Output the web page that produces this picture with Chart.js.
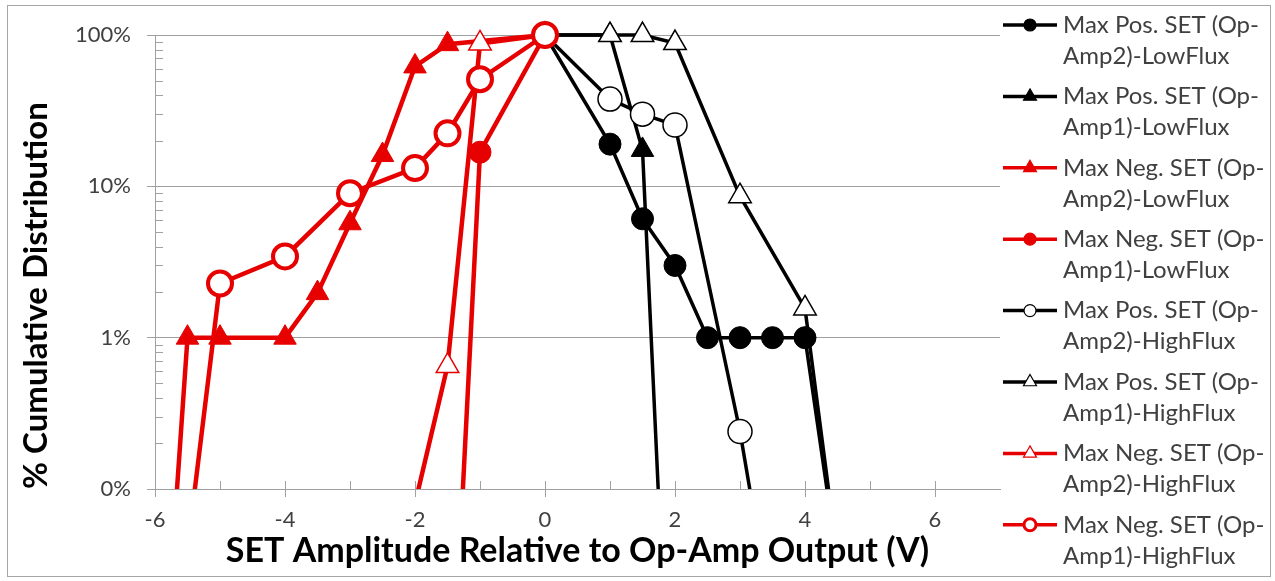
<!DOCTYPE html>
<html lang="en">
<head>
<meta charset="UTF-8">
<title>SET amplitude cumulative distribution</title>
<script src="https://cdn.jsdelivr.net/npm/chart.js@4"></script>
<style>
  body { margin: 0; background: #fff; }
  #wrap { width: 1275px; height: 581px; }
</style>
</head>
<body>
<div id="wrap"><canvas id="setChart" width="1275" height="581"></canvas></div>
<script>
// legend labels, in the same order as the series below
const seriesLabels = [
  'Max Pos. SET (Op-Amp2)-LowFlux',
  'Max Pos. SET (Op-Amp1)-LowFlux',
  'Max Neg. SET (Op-Amp2)-LowFlux',
  'Max Neg. SET (Op-Amp1)-LowFlux',
  'Max Pos. SET (Op-Amp2)-HighFlux',
  'Max Pos. SET (Op-Amp1)-HighFlux',
  'Max Neg. SET (Op-Amp2)-HighFlux',
  'Max Neg. SET (Op-Amp1)-HighFlux'
];

// SET amplitude (V) and % cumulative distribution
// (points under 0.1% fall below the axis and are clipped, as in the original)
const posAmp2LowX = [0, 1, 1.5, 2, 2.5, 3, 3.5, 4, 4.5];
const posAmp2LowY = [100, 19, 6.1, 3.0, 1, 1, 1, 1, 0.033];
const posAmp1LowX = [0, 1, 1.5, 2];
const posAmp1LowY = [100, 100, 17.4, 0.0004];
const negAmp2LowX = [-6, -5.5, -5, -4, -3.5, -3, -2.5, -2, -1.5, 0];
const negAmp2LowY = [0.0008, 1, 1, 1, 1.97, 5.7, 16.1, 62, 87, 100];
const negAmp1LowX = [-1.5, -1, 0];
const negAmp1LowY = [0.001, 16.8, 100];
const posAmp2HighX = [0, 1, 1.5, 2, 3, 3.5];
const posAmp2HighY = [100, 37.7, 30, 25.4, 0.24, 0.013];
const posAmp1HighX = [0, 1, 1.5, 2, 3, 4, 4.5];
const posAmp1HighY = [100, 100, 100, 88.5, 8.6, 1.56, 0.035];
const negAmp2HighX = [-2, -1.5, -1, 0];
const negAmp2HighY = [0.08, 0.65, 88, 100];
const negAmp1HighX = [-5.5, -5, -4, -3, -2, -1.5, -1, 0];
const negAmp1HighY = [0.04, 2.28, 3.44, 9.0, 13.2, 22.4, 51, 100];

// axis ticks
const yTickValues = [0.1, 1, 10, 100];
const yTickLabels = ['0%', '1%', '10%', '100%'];
const xTickValues = [-6, -4, -2, 0, 2, 4, 6];

const RED = '#e60000';
const AXIS_GRAY = '#a0a0a0';
const FONT = 'Lato';

function pts(xs, ys) {
  return xs.map((x, i) => ({ x: x, y: ys[i] }));
}

// marker / line look for each series
const looks = [
  { line: '#000', width: 3.5, shape: 'circle', r: 11, fill: '#000', edge: '#000', ew: 1 },
  { line: '#000', width: 3.5, shape: 'triangle', r: 13, fill: '#000', edge: '#000', ew: 1 },
  { line: RED, width: 4.5, shape: 'triangle', r: 13, fill: RED, edge: RED, ew: 1 },
  { line: RED, width: 4.5, shape: 'circle', r: 11, fill: RED, edge: RED, ew: 1 },
  { line: '#000', width: 3.5, shape: 'circle', r: 12, fill: '#fff', edge: '#000', ew: 1.5 },
  { line: '#000', width: 3.5, shape: 'triangle', r: 13, fill: '#fff', edge: '#000', ew: 1.5 },
  { line: RED, width: 4.5, shape: 'triangle', r: 13, fill: '#fff', edge: RED, ew: 1.5 },
  { line: RED, width: 4.5, shape: 'circle', r: 12, fill: '#fff', edge: RED, ew: 4 }
];

const seriesData = [
  pts(posAmp2LowX, posAmp2LowY),
  pts(posAmp1LowX, posAmp1LowY),
  pts(negAmp2LowX, negAmp2LowY),
  pts(negAmp1LowX, negAmp1LowY),
  pts(posAmp2HighX, posAmp2HighY),
  pts(posAmp1HighX, posAmp1HighY),
  pts(negAmp2HighX, negAmp2HighY),
  pts(negAmp1HighX, negAmp1HighY)
];

const datasets = seriesData.map((d, i) => ({
  label: seriesLabels[i],
  data: d,
  borderColor: looks[i].line,
  borderWidth: looks[i].width,
  pointStyle: looks[i].shape,
  pointRadius: looks[i].r,
  pointHoverRadius: looks[i].r,
  pointBackgroundColor: looks[i].fill,
  pointBorderColor: looks[i].edge,
  pointBorderWidth: looks[i].ew,
  fill: false,
  tension: 0,
  // later series sit on top, like the original
  order: seriesData.length - i,
  clip: { left: 20, top: 20, right: 20, bottom: 0 }
}));

function isDecade(v) {
  const l = Math.log10(v);
  return Math.abs(l - Math.round(l)) < 1e-9;
}

// white page + thin frame round the whole chart
const framePlugin = {
  id: 'frame',
  beforeDraw(chart) {
    const ctx = chart.ctx;
    ctx.save();
    ctx.fillStyle = '#fff';
    ctx.fillRect(0, 0, chart.width, chart.height);
    ctx.strokeStyle = '#a6a6a6';
    ctx.lineWidth = 1;
    ctx.strokeRect(7.5, 5.5, 1263, 571);
    ctx.restore();
  }
};

// small tick marks inside the plot (log minors on y, every volt on x)
const innerTicks = {
  id: 'innerTicks',
  beforeDatasetsDraw(chart) {
    const ctx = chart.ctx;
    const xs = chart.scales.x, ys = chart.scales.y;
    const area = chart.chartArea;
    ctx.save();
    ctx.strokeStyle = AXIS_GRAY;
    ctx.lineWidth = 1;
    ctx.beginPath();
    ys.ticks.forEach(t => {
      if (isDecade(t.value)) return;
      const y = Math.round(ys.getPixelForValue(t.value)) + 0.5;
      ctx.moveTo(area.left, y);
      ctx.lineTo(area.left + 8, y);
    });
    xs.ticks.forEach(t => {
      if (t.value <= xs.min || t.value >= xs.max) return;
      const x = Math.round(xs.getPixelForValue(t.value)) + 0.5;
      ctx.moveTo(x, area.bottom);
      ctx.lineTo(x, area.bottom - 8);
    });
    ctx.stroke();
    ctx.restore();
  }
};

// legend on the right, labels wrapped after "(Op-"
const sideLegend = {
  id: 'sideLegend',
  afterDraw(chart) {
    const ctx = chart.ctx;
    ctx.save();
    ctx.font = '24px ' + FONT;
    ctx.textBaseline = 'middle';
    chart.data.datasets.forEach((ds, i) => {
      const y = 25 + i * 71.4;
      ctx.strokeStyle = ds.borderColor;
      ctx.lineWidth = 3.5;
      ctx.beginPath();
      ctx.moveTo(1003, y);
      ctx.lineTo(1057, y);
      ctx.stroke();
      ctx.fillStyle = ds.pointBackgroundColor;
      ctx.strokeStyle = ds.pointBorderColor;
      ctx.lineWidth = ds.pointBorderWidth > 2 ? 3 : 1.2;
      Chart.helpers.drawPoint(ctx, {
        pointStyle: ds.pointStyle,
        radius: ds.pointStyle === 'triangle' ? 7.5 : 6,
        rotation: 0,
        borderWidth: ctx.lineWidth
      }, 1030, y);
      const cut = ds.label.indexOf('Amp');
      ctx.fillStyle = '#404040';
      ctx.fillText(ds.label.slice(0, cut), 1063, y);
      ctx.fillText(ds.label.slice(cut), 1063, y + 31);
    });
    ctx.restore();
  }
};

new Chart(document.getElementById('setChart'), {
  type: 'line',
  data: { datasets: datasets },
  options: {
    responsive: false,
    animation: false,
    events: [],
    layout: { padding: { top: 35, right: 275, left: 0, bottom: 0 } },
    plugins: {
      legend: { display: false },
      tooltip: { enabled: false }
    },
    scales: {
      x: {
        type: 'linear',
        min: -6,
        max: 7,
        afterFit(scale) { scale.height = 92; },
        ticks: {
          stepSize: 1,
          autoSkip: false,
          maxRotation: 0,
          padding: 10,
          color: '#404040',
          font: { family: FONT, size: 22 },
          callback: v => (xTickValues.includes(v) ? String(v) : '')
        },
        grid: {
          drawOnChartArea: false,
          drawTicks: true,
          tickLength: 8,
          tickColor: ctx => (xTickValues.includes(ctx.tick.value) ? AXIS_GRAY : 'rgba(0,0,0,0)')
        },
        border: { display: true, color: AXIS_GRAY, width: 1 },
        title: {
          display: true,
          text: 'SET Amplitude Relative to Op-Amp Output (V)',
          color: '#000',
          font: { family: FONT, size: 34, weight: 'bold' },
          padding: { top: 0, bottom: 10 }
        }
      },
      y: {
        type: 'logarithmic',
        min: 0.1,
        max: 100,
        afterFit(scale) { scale.width = 155; },
        afterBuildTicks(scale) {
          const list = [];
          for (let e = -1; e < 2; e++) {
            for (let m = 1; m < 10; m++) {
              list.push({ value: Number((m * Math.pow(10, e)).toPrecision(3)) });
            }
          }
          list.push({ value: 100 });
          scale.ticks = list;
        },
        ticks: {
          autoSkip: false,
          padding: 16,
          color: '#404040',
          font: { family: FONT, size: 22 },
          callback: v => {
            const k = yTickValues.findIndex(t => Math.abs(t - v) < 1e-9);
            return k >= 0 ? yTickLabels[k] : '';
          }
        },
        grid: {
          drawTicks: true,
          tickLength: 8,
          color: ctx => (isDecade(ctx.tick.value) ? AXIS_GRAY : 'rgba(0,0,0,0)'),
          tickColor: ctx => (isDecade(ctx.tick.value) ? AXIS_GRAY : 'rgba(0,0,0,0)')
        },
        border: { display: true, color: AXIS_GRAY, width: 1 },
        title: {
          display: true,
          text: '% Cumulative Distribution',
          align: 'start',
          color: '#000',
          font: { family: FONT, size: 33, weight: 'bold' },
          padding: { top: 17, bottom: 0 }
        }
      }
    }
  },
  plugins: [framePlugin, innerTicks, sideLegend]
});
</script>
</body>
</html>
